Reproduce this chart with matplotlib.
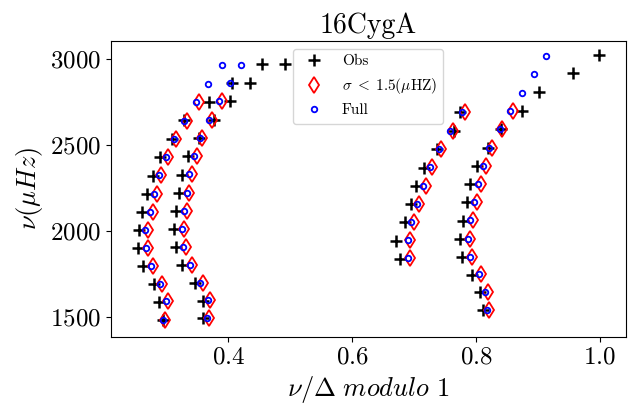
import numpy as np
import matplotlib
matplotlib.use('Agg')
import matplotlib.pyplot as plt

plt.rcParams['font.family'] = 'serif'
plt.rcParams['font.serif'] = ['cmr10']
plt.rcParams['mathtext.fontset'] = 'cm'
plt.rcParams['axes.formatter.use_mathtext'] = True

# Obs (black plus), ridges from left to right
obs_x = [0.4553, 0.4068, 0.3690, 0.3281, 0.3099, 0.2905, 0.2780, 0.2688, 0.2614, 0.2559, 0.2543, 0.2624, 0.2801, 0.2877, 0.2947,
         0.4924, 0.4359, 0.4036, 0.3771, 0.3528, 0.3357, 0.3249, 0.3205, 0.3163, 0.3131, 0.3163, 0.3254, 0.3459, 0.3593, 0.3593,
         0.7740, 0.7643, 0.7373, 0.7153, 0.7034, 0.6953, 0.6856, 0.6701, 0.6766,
         0.9981, 0.9570, 0.9011, 0.8746, 0.8407, 0.8187, 0.8015, 0.7910, 0.7848, 0.7784, 0.7740, 0.7772, 0.7929, 0.8058, 0.8107]
obs_y = [2969, 2862, 2750, 2644, 2537, 2429, 2322, 2218, 2112, 2007, 1901, 1796, 1692, 1589, 1484,
         2973, 2862, 2754, 2646, 2541, 2435, 2328, 2224, 2117, 2011, 1908, 1802, 1699, 1596, 1494,
         2690, 2584, 2477, 2369, 2264, 2158, 2052, 1945, 1840,
         3025, 2919, 2807, 2698, 2592, 2485, 2379, 2272, 2168, 2061, 1956, 1850, 1747, 1645, 1541]

# model with sigma < 1.5 muHz (red diamonds)
sig_x = [0.3528, 0.3334, 0.3163, 0.3034, 0.2921, 0.2850, 0.2785, 0.2704, 0.2704, 0.2792, 0.2937, 0.3034, 0.2979,
         0.3900, 0.3733, 0.3583, 0.3491, 0.3410, 0.3373, 0.3330, 0.3286, 0.3313, 0.3422, 0.3588, 0.3706, 0.3696,
         0.7820, 0.7622, 0.7433, 0.7292, 0.7186, 0.7082, 0.6992, 0.6927, 0.6932,
         0.8591, 0.8418, 0.8262, 0.8155, 0.8079, 0.8010, 0.7945, 0.7901, 0.7934, 0.8079, 0.8187, 0.8208]
sig_y = [2750, 2642, 2537, 2431, 2325, 2218, 2113, 2009, 1903, 1798, 1695, 1593, 1486,
         2755, 2648, 2541, 2437, 2331, 2224, 2119, 2015, 1910, 1804, 1701, 1599, 1496,
         2690, 2584, 2477, 2371, 2264, 2158, 2053, 1947, 1843,
         2698, 2592, 2485, 2380, 2274, 2170, 2063, 1957, 1852, 1750, 1647, 1542]

# full model (blue circles)
full_x = [0.3900, 0.3680, 0.3486, 0.3286, 0.3120, 0.2995, 0.2882, 0.2808, 0.2743, 0.2662, 0.2667, 0.2753, 0.2898, 0.2995, 0.2953,
          0.4207, 0.4024, 0.3851, 0.3685, 0.3540, 0.3447, 0.3373, 0.3334, 0.3292, 0.3249, 0.3276, 0.3383, 0.3551, 0.3669, 0.3664,
          0.7772, 0.7573, 0.7396, 0.7255, 0.7147, 0.7045, 0.6953, 0.6895, 0.6900,
          0.9129, 0.8940, 0.8742, 0.8548, 0.8381, 0.8213, 0.8116, 0.8039, 0.7971, 0.7901, 0.7864, 0.7897, 0.8047, 0.8149, 0.8176]
full_y = [2963, 2857, 2750, 2642, 2537, 2431, 2325, 2218, 2113, 2009, 1903, 1798, 1695, 1593, 1486,
          2967, 2859, 2754, 2648, 2541, 2437, 2331, 2224, 2119, 2015, 1910, 1804, 1701, 1599, 1496,
          2690, 2584, 2477, 2371, 2264, 2158, 2053, 1947, 1843,
          3017, 2911, 2804, 2698, 2592, 2485, 2380, 2274, 2170, 2063, 1957, 1852, 1750, 1647, 1542]

fig = plt.figure(figsize=(6.36, 4.07), dpi=100)
ax = fig.add_axes([0.1745, 0.172, 0.809, 0.7273])

ax.plot(obs_x, obs_y, '+', color='black', ms=8, mew=1.8, label='Obs')
ax.plot(sig_x, sig_y, 'd', color='red', mfc='none', ms=8.5, mew=1.3, label=r'$\sigma\;<\;1.5(\mu$HZ)')
ax.plot(full_x, full_y, 'o', color='blue', mfc='none', ms=4, mew=1.3, label='Full')

ax.set_xlim(0.2107, 1.0414)
ax.set_ylim(1385.6, 3104.5)
ax.set_xticks([0.4, 0.6, 0.8, 1.0])
ax.set_yticks([1500, 2000, 2500, 3000])
ax.tick_params(labelsize=18)
ax.set_title('16CygA', fontsize=20)
ax.set_xlabel(r'$\nu/\Delta\ modulo\ 1$', fontsize=19)
ax.set_ylabel(r'$\nu(\mu Hz)$', fontsize=19)
ax.legend(loc='upper center', fontsize=11)

fig.savefig('out.png', dpi=100)
